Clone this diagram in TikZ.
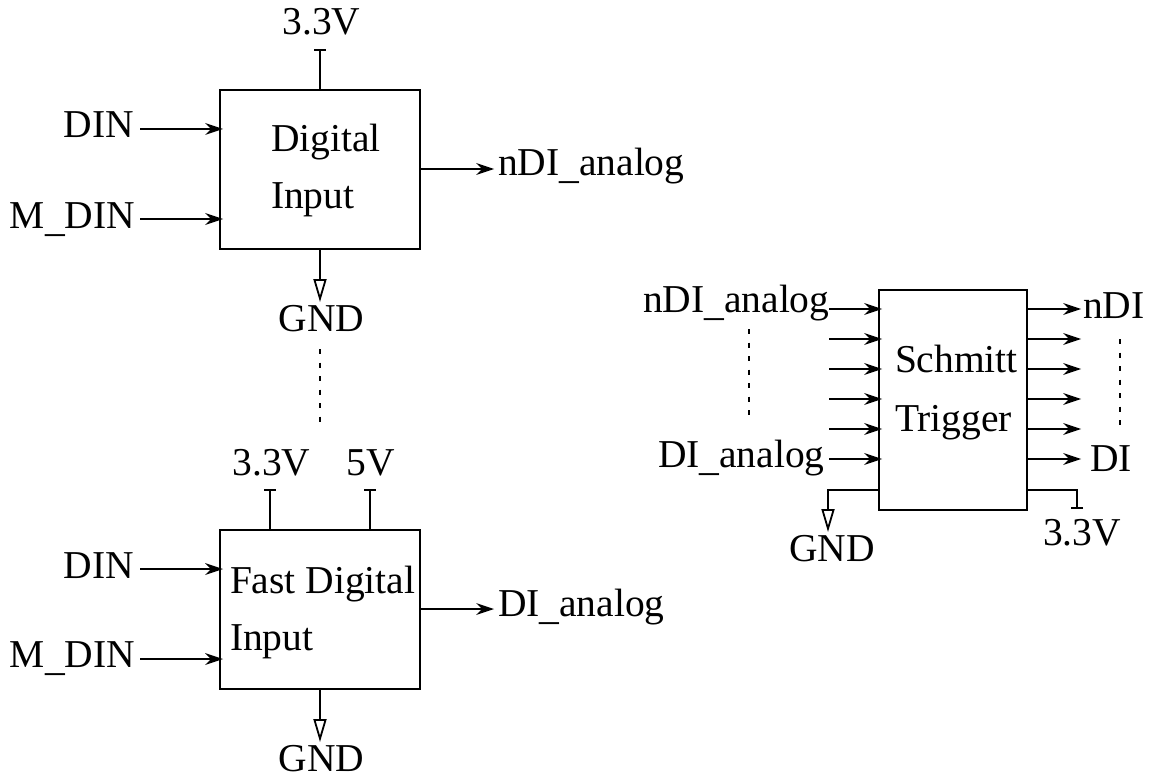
\documentclass[tikz,border=0pt]{standalone}
\usepackage{fontspec}
\setmainfont{Liberation Serif}
\usetikzlibrary{arrows.meta}
\newcommand{\lowus}{\raisebox{-3pt}{\_}}
\tikzset{
  lbl/.style={inner sep=0pt,outer sep=0pt,font=\fontsize{39.5}{40}\selectfont},
  lw/.style={lbl,anchor=base west},
  lc/.style={lbl,anchor=base},
  le/.style={lbl,anchor=base east},
  blk/.style={draw,line width=2pt,inner sep=0pt,outer sep=0pt,anchor=north west},
  wire/.style={line width=2pt},
  sig/.style={wire,-{Stealth[length=18pt,width=12pt,inset=6pt,line width=0pt]}},
  gndw/.style={wire,-{Triangle[open,length=23pt,width=13pt,line width=1.8pt]}},
  pwr/.style={wire,-{Bar[width=12pt,line width=2pt]}},
  dots/.style={line width=2pt,dash pattern=on 5pt off 8.5pt}
}
\begin{document}
\begin{tikzpicture}[x=1pt,y=-1pt]
\useasboundingbox (0,0) rectangle (1156,778);
% blocks
\node[blk,minimum width=200pt,minimum height=159pt] (b1) at (220,90) {};
\node[blk,minimum width=200pt,minimum height=159pt] (b2) at (220,530) {};
\node[blk,minimum width=148pt,minimum height=220pt] (b3) at (879,289.5) {};
% block texts
\node[lw] (t1a) at (271,152) {Digital};
\node[lw] (t1b) at (271,208) {Input};
\node[lw] (t2a) at (230,593) {Fast Digital};
\node[lw] (t2b) at (230,650) {Input};
\node[lw] (t3a) at (895,372) {Schmitt};
\node[lw] (t3b) at (895,431) {Trigger};
% block 1 labels
\node[lc] (v1) at (321.5,35) {3.3V};
\node[le] (din1) at (134,138) {DIN};
\node[le] (mdin1) at (135,228) {M\lowus DIN};
\node[lw] (out1) at (498,176) {nDI\lowus analog};
\node[lc] (gnd1) at (321.5,331) {GND};
% block 2 labels
\node[lc] (v2) at (271.5,475) {3.3V};
\node[lc] (v3) at (371,475) {5V};
\node[le] (din2) at (134,578) {DIN};
\node[le] (mdin2) at (135,667) {M\lowus DIN};
\node[lw] (out2) at (498,616) {DI\lowus analog};
\node[lc] (gnd2) at (321.5,771) {GND};
% block 3 labels
\node[lw] (in3a) at (643,312) {nDI\lowus analog};
\node[lw] (in3b) at (658,467) {DI\lowus analog};
\node[lw] (o3a) at (1083,318) {nDI};
\node[lw] (o3b) at (1090,471) {DI};
\node[lw] (gnd3) at (789,561) {GND};
\node[lw] (v4) at (1043,545) {3.3V};
% named free ends
\foreach \n/\y in {a/309,b/339,c/369,d/399,e/429,f/459}{
  \coordinate (l\n) at (829,\y);
  \coordinate (p\n) at (882,\y);
  \coordinate (q\n) at (1027,\y);
  \coordinate (r\n) at (1081,\y);
}
\foreach \n in {a,b,c,d,e,f}{
  \draw[sig] (l\n) -- (p\n);
  \draw[sig] (q\n) -- (r\n);
}
% block 1 wires
\draw[pwr] (b1.north) -- ++(0,-41);
\draw[sig] ([xshift=6pt,yshift=9pt]din1.base east) -- ([xshift=3pt,yshift=-39pt]b1.north west);
\draw[sig] ([xshift=5pt,yshift=9pt]mdin1.base east) -- ([xshift=3pt,yshift=-129pt]b1.north west);
\draw[sig] ([yshift=-79pt]b1.north east) -- ([xshift=-4pt,yshift=7pt]out1.base west);
\draw[gndw] (b1.south) -- ++(0,53);
% block 2 wires
\draw[pwr] ([xshift=50pt]b2.north west) -- ++(0,-41);
\draw[pwr] ([xshift=150pt]b2.north west) -- ++(0,-41);
\draw[sig] ([xshift=6pt,yshift=9pt]din2.base east) -- ([xshift=3pt,yshift=-39pt]b2.north west);
\draw[sig] ([xshift=5pt,yshift=8pt]mdin2.base east) -- ([xshift=3pt,yshift=-129pt]b2.north west);
\draw[sig] ([yshift=-79pt]b2.north east) -- ([xshift=-4pt,yshift=7pt]out2.base west);
\draw[gndw] (b2.south) -- ++(0,53);
% block 3 supply
\draw[gndw] ([yshift=20pt]b3.south west) -| (828,532);
\draw[pwr] ([yshift=20pt]b3.south east) -| (1077,509);
% ellipsis
\coordinate (e1a) at (320,349); \coordinate (e1b) at (320,423);
\coordinate (e2a) at (749,329); \coordinate (e2b) at (749,416);
\coordinate (e3a) at (1120,339); \coordinate (e3b) at (1120,426);
\draw[dots] (e1a) -- (e1b);
\draw[dots] (e2a) -- (e2b);
\draw[dots] (e3a) -- (e3b);
\end{tikzpicture}
\end{document}
